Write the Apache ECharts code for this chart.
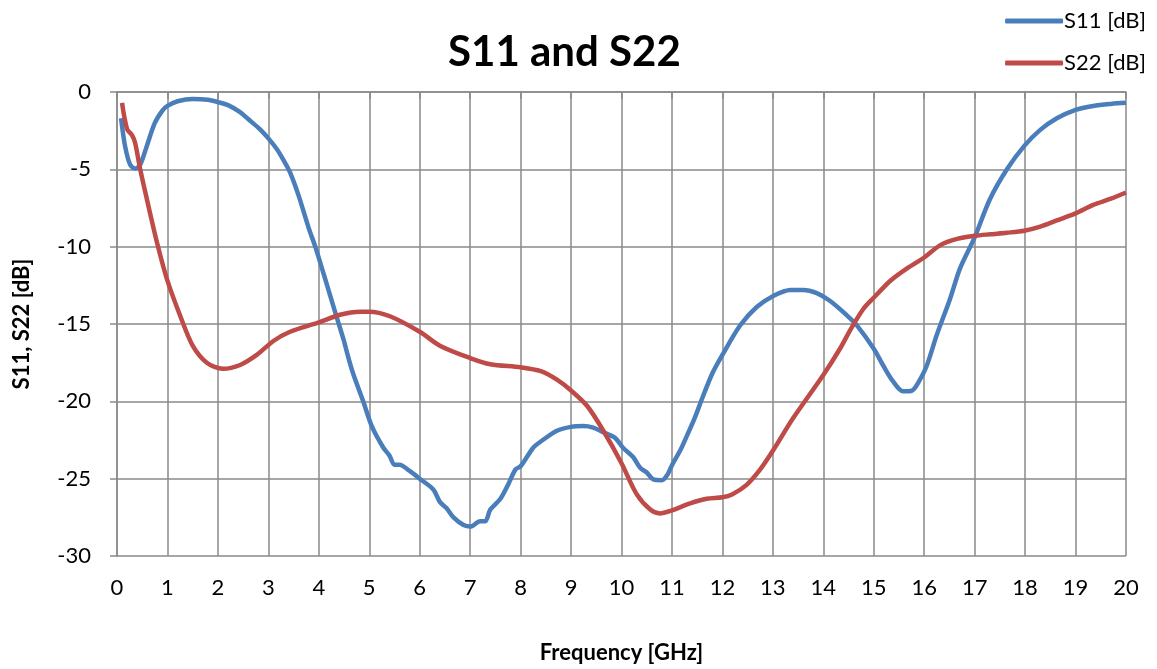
<!DOCTYPE html>
<html>
<head>
<meta charset="utf-8">
<script src="https://cdn.jsdelivr.net/npm/echarts@6/dist/echarts.min.js"></script>
<style>html,body{margin:0;padding:0;background:#fff}#c{width:1157px;height:669px}</style>
</head>
<body>
<div id="c"></div>
<script>
const freqS11 = [0.08,0.16,0.26,0.36,0.46,0.59,0.75,0.9,1.0,1.2,1.5,1.8,2.0,2.2,2.44,2.6,2.83,3.0,3.17,3.3,3.43,3.6,3.8,3.93,4.1,4.33,4.49,4.58,4.68,4.88,5.05,5.28,5.4,5.5,5.6,5.8,6.0,6.27,6.4,6.53,6.67,6.87,7.0,7.2,7.3,7.4,7.6,7.75,7.9,8.0,8.25,8.4,8.72,9.0,9.24,9.44,9.64,9.87,10.03,10.23,10.37,10.5,10.63,10.8,10.9,11.02,11.16,11.3,11.46,11.6,11.8,12.0,12.35,12.68,13.0,13.35,13.6,13.87,14.13,14.47,14.67,15.0,15.19,15.38,15.58,15.76,15.88,16.05,16.25,16.51,16.71,17.0,17.3,17.64,17.98,18.3,18.63,19.0,19.35,19.7,20.0];
const s11 = [-1.7,-3.5,-4.7,-4.95,-4.7,-3.5,-2.0,-1.2,-0.9,-0.6,-0.45,-0.5,-0.65,-0.85,-1.3,-1.75,-2.4,-3.0,-3.7,-4.4,-5.2,-6.7,-8.8,-10.0,-11.8,-14.3,-16.0,-17.1,-18.2,-20.0,-21.6,-23.0,-23.5,-24.1,-24.1,-24.5,-25.0,-25.7,-26.5,-26.9,-27.5,-28.0,-28.1,-27.75,-27.75,-27.0,-26.3,-25.4,-24.4,-24.2,-23.0,-22.6,-21.9,-21.65,-21.6,-21.7,-22.0,-22.35,-23.0,-23.6,-24.3,-24.6,-25.05,-25.1,-24.8,-24.0,-23.2,-22.2,-21.0,-19.8,-18.2,-17.0,-15.1,-13.9,-13.2,-12.8,-12.8,-13.0,-13.5,-14.45,-15.1,-16.6,-17.7,-18.7,-19.35,-19.3,-18.8,-17.7,-15.7,-13.4,-11.4,-9.4,-6.95,-5.0,-3.5,-2.45,-1.7,-1.15,-0.9,-0.77,-0.7];

const freqS22 = [0.1,0.2,0.3,0.36,0.46,0.59,0.79,0.99,1.25,1.5,1.78,2.1,2.44,2.77,3.1,3.43,4.0,4.42,4.82,5.0,5.41,6.0,6.4,7.0,7.4,8.0,8.4,8.72,9.0,9.32,9.64,10.0,10.3,10.57,10.76,11.0,11.36,11.69,12.0,12.2,12.48,12.75,13.0,13.4,14.0,14.33,14.55,14.8,15.0,15.33,15.66,16.0,16.32,16.65,17.0,17.3,17.64,17.98,18.3,18.63,19.0,19.35,19.7,20.0];
const s22 = [-0.7,-2.4,-2.8,-3.3,-5.0,-6.9,-9.7,-12.1,-14.45,-16.4,-17.5,-17.9,-17.65,-17.0,-16.1,-15.5,-14.9,-14.4,-14.2,-14.2,-14.5,-15.5,-16.4,-17.2,-17.6,-17.8,-18.05,-18.6,-19.3,-20.3,-21.9,-24.0,-26.0,-27.0,-27.25,-27.05,-26.6,-26.3,-26.2,-26.0,-25.4,-24.4,-23.2,-21.1,-18.3,-16.6,-15.3,-14.0,-13.3,-12.2,-11.4,-10.7,-9.9,-9.5,-9.3,-9.2,-9.1,-8.97,-8.7,-8.3,-7.85,-7.3,-6.9,-6.5];

const xTicks = [0,1,2,3,4,5,6,7,8,9,10,11,12,13,14,15,16,17,18,19,20];
const yTicks = [-30,-25,-20,-15,-10,-5,0];

const pair = (xs, ys) => xs.map((x, i) => [x, ys[i]]);
const font = 'Lato, "Open Sans", sans-serif';
const gridColor = '#8a8a8a';

const chart = echarts.init(document.getElementById('c'), null, {renderer: 'canvas'});
chart.setOption({
  animation: false,
  backgroundColor: '#ffffff',
  title: {
    text: 'S11 and S22',
    left: 443, top: 26,
    textStyle: {fontFamily: font, fontWeight: 'bold', fontSize: 42, color: '#000'}
  },
  legend: {
    orient: 'vertical', right: 6, top: 5,
    itemWidth: 58, itemHeight: 5, itemGap: 20,
    icon: 'roundRect',
    textStyle: {fontFamily: font, fontSize: 22, color: '#000', padding: [0, 0, 0, -4]},
    data: ['S11 [dB]', 'S22 [dB]']
  },
  grid: {left: 117, right: 31, top: 92, bottom: 110, containLabel: false},
  xAxis: {
    type: 'value', min: xTicks[0], max: xTicks[xTicks.length - 1], interval: 1,
    name: 'Frequency [GHz]', nameLocation: 'middle', nameGap: 86,
    nameTextStyle: {fontFamily: font, fontWeight: 'bold', fontSize: 22, color: '#000'},
    axisLine: {show: true, lineStyle: {color: gridColor, width: 1.5}},
    axisTick: {show: true, length: 7, lineStyle: {color: gridColor, width: 1.5}},
    axisLabel: {margin: 21, fontFamily: font, fontSize: 22, color: '#000'},
    splitLine: {show: true, lineStyle: {color: gridColor, width: 1.5}}
  },
  yAxis: {
    type: 'value', min: yTicks[0], max: yTicks[yTicks.length - 1], interval: 5,
    name: 'S11, S22 [dB]', nameLocation: 'middle', nameGap: 84, nameRotate: 90,
    nameTextStyle: {fontFamily: font, fontWeight: 'bold', fontSize: 22, color: '#000'},
    axisLine: {show: true, onZero: false, lineStyle: {color: gridColor, width: 1.5}},
    axisTick: {show: true, length: 7, lineStyle: {color: gridColor, width: 1.5}},
    axisLabel: {margin: 26, fontFamily: font, fontSize: 22, color: '#000'},
    splitLine: {show: true, lineStyle: {color: gridColor, width: 1.5}}
  },
  series: [
    {
      name: 'S11 [dB]', type: 'line', data: pair(freqS11, s11),
      smooth: 0.3, symbol: 'none', color: '#4a7ebb',
      lineStyle: {width: 4.5, color: '#4a7ebb'}
    },
    {
      name: 'S22 [dB]', type: 'line', data: pair(freqS22, s22),
      smooth: 0.3, symbol: 'none', color: '#be4b48',
      lineStyle: {width: 4.5, color: '#be4b48'}
    }
  ]
});
</script>
</body>
</html>
